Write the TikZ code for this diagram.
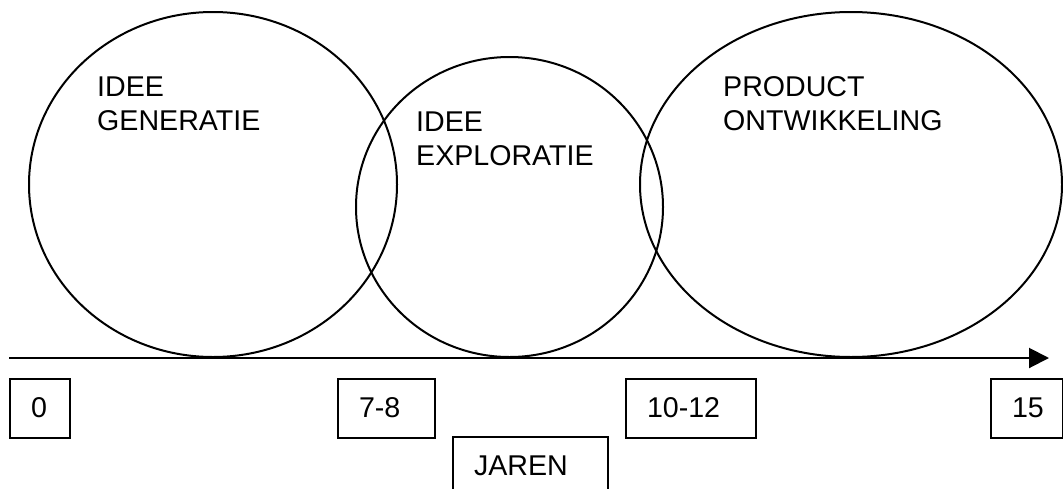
\documentclass[tikz,border=0pt]{standalone}
\usepackage{fontspec}
\setmainfont{Liberation Sans}
\usetikzlibrary{shapes.geometric,arrows.meta}
\begin{document}
\begin{tikzpicture}[x=1pt,y=-1pt,
  every node/.style={font=\fontsize{28.6}{33.5}\selectfont},
  phase/.style={draw,ellipse,line width=2pt,inner sep=0pt},
  phasetext/.style={anchor=base west,align=left,inner sep=0pt},
  yearbox/.style={draw,line width=2pt,anchor=north west,minimum height=59pt,
    inner xsep=21pt,inner ysep=0pt,text height=20pt,text depth=2pt,align=left},
  axisline/.style={line width=2pt,-{Triangle[length=20pt,width=20pt]}}]
\useasboundingbox[fill=white] (0,0) rectangle (1063,488);

% three overlapping phases
\node[phase,minimum width=368pt,minimum height=345pt] (gen) at (213,184.5) {};
\node[phase,minimum width=307pt,minimum height=300pt] (expl) at (509.5,207) {};
\node[phase,minimum width=422pt,minimum height=345pt] (prod) at (851,184.5) {};

% labels, anchored at the baseline of their last line
\node[phasetext] (gentxt) at (97,130) {IDEE\\GENERATIE};
\node[phasetext] (expltxt) at (416,165) {IDEE\\EXPLORATIE};
\node[phasetext] (prodtxt) at (723,130) {PRODUCT\\ONTWIKKELING};

% time axis
\coordinate (axstart) at (9,358);
\coordinate (axend) at (1049,358);
\draw[axisline] (axstart) -- (axend);

% year markers
\node[yearbox,minimum width=60pt,text width=18pt] (y0) at (9,378) {0};
\node[yearbox,minimum width=97pt,text width=55pt] (y78) at (337,378) {7-8};
\node[yearbox,minimum width=130pt,text width=88pt] (y1012) at (625,378) {10-12};
\node[yearbox,minimum width=72pt,text width=30pt] (y15) at (990,378) {15};
\node[yearbox,minimum width=155pt,text width=113pt] (jaren) at (452,436) {JAREN};
\end{tikzpicture}
\end{document}
